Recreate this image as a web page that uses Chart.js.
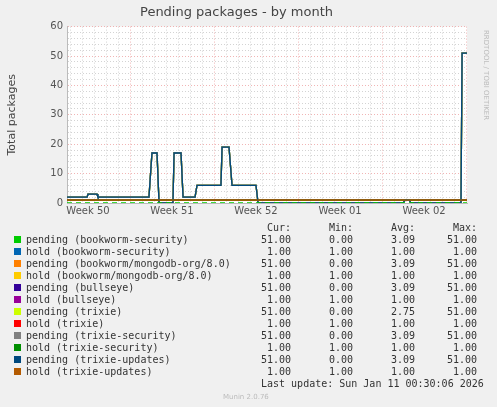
<!DOCTYPE html>
<html><head><meta charset="utf-8">
<script src="https://cdn.jsdelivr.net/npm/chart.js@4"></script>
<style>
body{margin:0;background:#f0f0f0;width:497px;height:407px;overflow:hidden;position:relative;font-family:"DejaVu Sans Mono",monospace;}
#wrap{position:absolute;left:0;top:0;width:497px;height:225px;}
.t{position:absolute;font-size:10px;color:#333;white-space:pre;line-height:12px;}
.r{text-align:right;}
.sw{position:absolute;width:7px;height:7px;}
</style></head><body>
<div id="wrap"><canvas id="c" width="497" height="225"></canvas></div>
<div class="t" style="top:30px;transform-origin:0 0;transform:rotate(90deg);font-family:'DejaVu Sans';font-size:7px;color:#bbb;left:492px;">RRDTOOL / TOBI OETIKER</div>
<div id="legend"></div>
<script>
const seriesNames=["pending (bookworm-security)","hold (bookworm-security)","pending (bookworm/mongodb-org/8.0)","hold (bookworm/mongodb-org/8.0)","pending (bullseye)","hold (bullseye)","pending (trixie)","hold (trixie)","pending (trixie-security)","hold (trixie-security)","pending (trixie-updates)","hold (trixie-updates)"];
const seriesColors=["#00CC00","#0066B3","#FF8000","#FFCC00","#330099","#990099","#CCFF00","#FF0000","#808080","#008F00","#00487D","#B35A00"];
const curVals=["51.00","1.00","51.00","1.00","51.00","1.00","51.00","1.00","51.00","1.00","51.00","1.00"];
const minVals=["0.00","1.00","0.00","1.00","0.00","1.00","0.00","1.00","0.00","1.00","0.00","1.00"];
const avgVals=["3.09","1.00","3.09","1.00","3.09","1.00","2.75","1.00","3.09","1.00","3.09","1.00"];
const maxVals=["51.00","1.00","51.00","1.00","51.00","1.00","51.00","1.00","51.00","1.00","51.00","1.00"];
// time in days from start of graph
const pendX=[0,1.67,1.75,2.5,2.58,6.83,7.08,7.5,7.67,8.83,8.92,9.5,9.67,10.67,10.83,12.83,12.92,13.5,13.75,15.75,15.92,28,28.17,28.5,28.67,32.83,32.92,33.33];
const pendY=[2,2,3,3,2,2,17,17,0,0,17,17,2,2,6,6,19,19,6,6,0,0,1,1,0,0,51,51];
const holdX=[0,33.33];
const holdY=[1,1];
const zeroY=[0,0];
const weekLabels=["Week 50","Week 51","Week 52","Week 01","Week 02"];
const weekMid=[1.75,8.75,15.75,22.75,29.75];
const yTicks=[0,10,20,30,40,50,60];

const pts=(xs,ys)=>xs.map((x,i)=>({x:x,y:ys[i]}));
const datasets=seriesNames.map((n,i)=>{
  const isHold=n.startsWith("hold");
  return {label:n,data:isHold?pts(holdX,holdY):pts(pendX,pendY),borderColor:seriesColors[i],borderWidth:1.3,pointRadius:0,fill:false,tension:0};
});
datasets.reverse(); // chart.js draws index 0 on top
datasets.unshift({label:"zero",data:pts(holdX,zeroY),borderColor:"#00CC00",borderWidth:1.3,borderDash:[5,4],pointRadius:0});
const bgPlugin={id:'bg',beforeDraw(ch){const a=ch.chartArea,c=ch.ctx;c.save();c.fillStyle='#fff';c.fillRect(a.left,a.top,a.right-a.left,a.bottom-a.top);c.restore();}};
const isMid=v=>weekMid.some(m=>Math.abs(m+0.0001-v)<1e-6);
new Chart(document.getElementById('c'),{type:'line',data:{datasets},plugins:[bgPlugin],
options:{responsive:false,animation:false,layout:{padding:{left:6,right:30,top:0,bottom:0}},
plugins:{legend:{display:false},tooltip:{enabled:false},title:{display:true,text:"Pending packages - by month",color:'#444',font:{family:'DejaVu Sans',size:13,weight:'normal'},padding:{top:5,bottom:6}}},
scales:{
x:{type:'linear',min:0,max:33.33,border:{display:true,color:'#bbb',dash:[1,2]},
 afterFit(s){s.height=22;},
 afterBuildTicks(s){const t=[];for(let d=0.25;d<33.33;d+=1)t.push({value:d});weekMid.forEach(v=>t.push({value:v+0.0001}));s.ticks=t;},
 ticks:{autoSkip:false,maxRotation:0,color:'#555',font:{family:'DejaVu Sans',size:10},padding:2,
  callback(v){const i=weekMid.findIndex(m=>Math.abs(m+0.0001-v)<1e-6);return i>=0?weekLabels[i]:'';}},
 grid:{drawTicks:false,lineWidth:1,
  color(c){const v=c.tick.value;if(isMid(v))return 'rgba(0,0,0,0)';const w=(v-5.25)/7;return Math.abs(w-Math.round(w))<0.01?'rgba(235,150,150,0.7)':'rgba(200,200,200,0.8)';}}},
y:{min:0,max:60,border:{display:true,color:'#bbb',dash:[1,2]},
 afterFit(s){s.width=61;},
 afterBuildTicks(s){const t=[];for(let v=0;v<=60;v+=2)t.push({value:v});s.ticks=t;},
 title:{display:true,text:"Total packages",color:'#444',font:{family:'DejaVu Sans',size:11},padding:{top:0,bottom:10}},
 ticks:{autoSkip:false,color:'#555',font:{family:'DejaVu Sans',size:10},padding:4,callback(v){return yTicks.includes(v)?String(v):'';}},
 grid:{drawTicks:false,color(c){return c.tick.value%10===0?'rgba(235,150,150,0.7)':'rgba(200,200,200,0.8)';}}}
}}});
// legend table
const L=document.getElementById('legend');
function add(txt,style,cls){const d=document.createElement('div');d.className='t '+(cls||'');d.style.cssText=style;d.textContent=txt;L.appendChild(d);}
const cols=[[curVals,291,"Cur:"],[minVals,353,"Min:"],[avgVals,415,"Avg:"],[maxVals,477,"Max:"]];
cols.forEach(([vals,r,h])=>add(h,`right:${497-r}px;top:222px;`,'r'));
seriesNames.forEach((n,i)=>{
  const y=234+i*12;
  const s=document.createElement('div');s.className='sw';s.style.cssText=`left:14px;top:${y+2}px;background:${seriesColors[i]}`;L.appendChild(s);
  add(n,`left:26px;top:${y}px;`);
  cols.forEach(([vals,r])=>add(vals[i],`right:${497-r}px;top:${y}px;`,'r'));
});
add("Last update: Sun Jan 11 00:30:06 2026","left:261px;top:378px;");
add("Munin 2.0.76","left:223px;top:391px;font-family:'DejaVu Sans';font-size:7px;color:#bbb;");
</script></body></html>
